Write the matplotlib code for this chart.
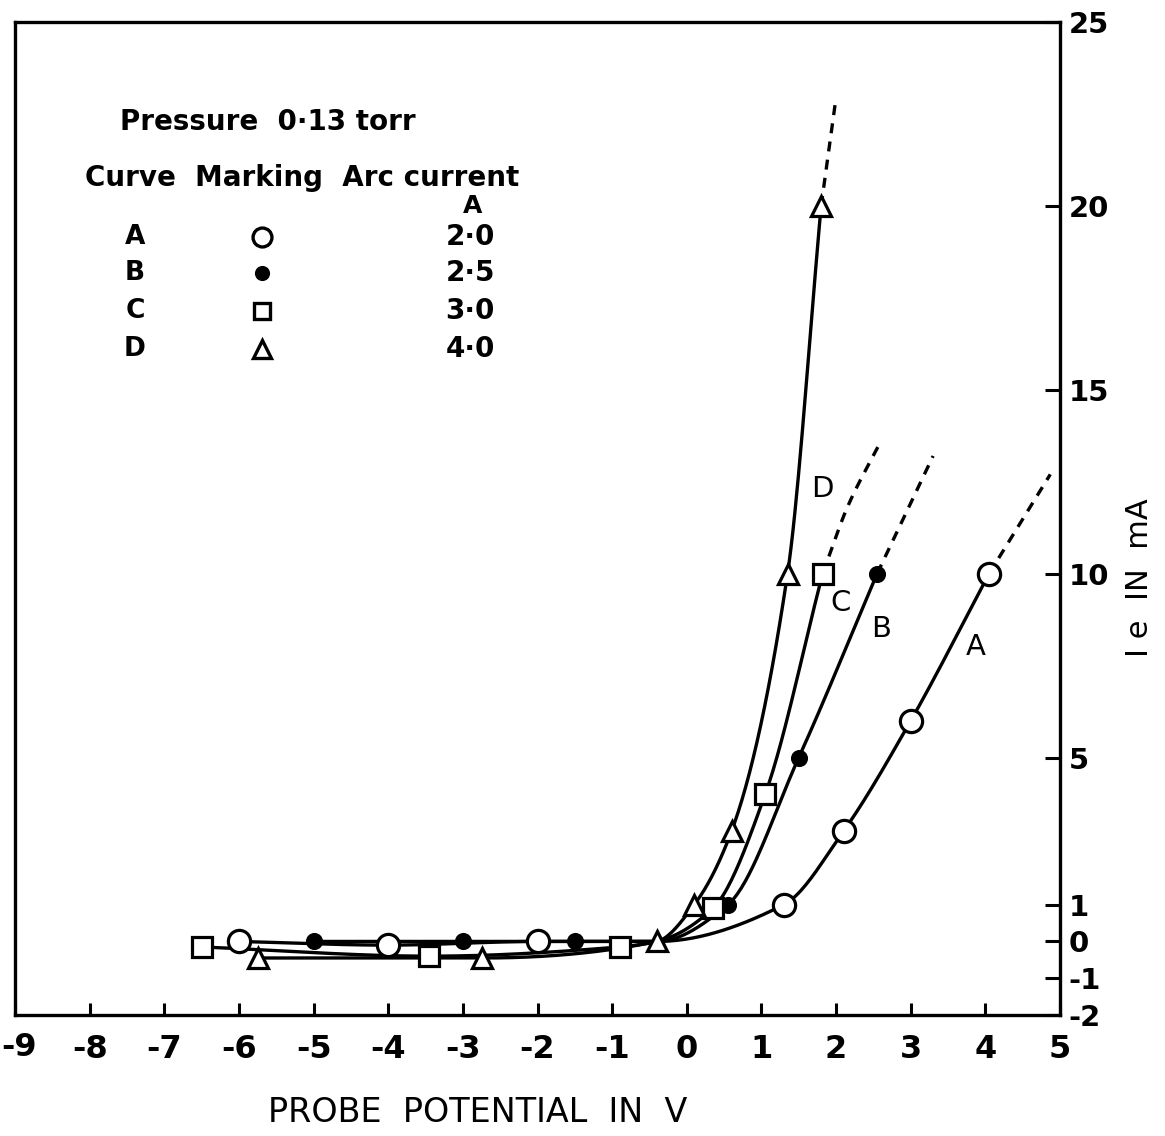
import matplotlib
matplotlib.use('Agg')
import matplotlib.pyplot as plt
import numpy as np

# probe characteristics, pressure 0.13 torr
junction = (-0.4, 0.0)   # point where all four curves meet

A_x = [-6.0, -4.0, -2.0, 1.3, 2.1, 3.0, 4.05]
A_y = [0.0, -0.1, 0.0, 1.0, 3.0, 6.0, 10.0]
B_x = [-5.0, -3.0, -1.5, 0.55, 1.5, 2.55]
B_y = [0.0, 0.0, 0.0, 1.0, 5.0, 10.0]
C_x = [-6.5, -3.45, -0.9, 0.35, 1.05, 1.82]
C_y = [-0.15, -0.4, -0.15, 0.9, 4.0, 10.0]
D_x = [-5.75, -2.75, -0.4, 0.1, 0.6, 1.35, 1.8]
D_y = [-0.45, -0.45, 0.0, 1.0, 3.0, 10.0, 20.0]

# dashed extrapolations
A_ext = ([4.05, 4.87], [10.0, 12.7])
B_ext = ([2.55, 3.3], [10.0, 13.2])
C_ext = ([1.82, 2.15, 2.6], [10.0, 11.8, 13.6])
D_ext = ([1.8, 1.99], [20.0, 22.8])

xticks = [-9, -8, -7, -6, -5, -4, -3, -2, -1, 0, 1, 2, 3, 4, 5]
yticks = [-2, -1, 0, 1, 5, 10, 15, 20, 25]

legend_rows = ['A', 'B', 'C', 'D']
arc_current = ['2·0', '2·5', '3·0', '4·0']

plt.rcParams['font.family'] = 'DejaVu Sans'
plt.rcParams['font.weight'] = 'bold'


def smooth(x, y, n=300):
    # monotone cubic (pchip) through the given points, for drawing only
    x = np.asarray(x, float); y = np.asarray(y, float)
    h = np.diff(x); d = np.diff(y) / h
    m = np.zeros_like(x)
    m[0] = d[0]; m[-1] = d[-1]
    for k in range(1, len(x) - 1):
        if d[k-1] * d[k] <= 0:
            m[k] = 0
        else:
            w1 = 2*h[k] + h[k-1]; w2 = h[k] + 2*h[k-1]
            m[k] = (w1 + w2) / (w1/d[k-1] + w2/d[k])
    xs = np.linspace(x[0], x[-1], n)
    i = np.clip(np.searchsorted(x, xs) - 1, 0, len(x) - 2)
    t = (xs - x[i]) / h[i]
    h00 = 2*t**3 - 3*t**2 + 1; h10 = t**3 - 2*t**2 + t
    h01 = -2*t**3 + 3*t**2; h11 = t**3 - t**2
    ys = h00*y[i] + h10*h[i]*m[i] + h01*y[i+1] + h11*h[i]*m[i+1]
    return xs, ys


def with_junction(x, y):
    pts = sorted(set(zip(x, y)) | {junction})
    return [p[0] for p in pts], [p[1] for p in pts]


fig = plt.figure(figsize=(11.65, 11.36), dpi=100)
ax = fig.add_axes([15/1165, 1 - 1015/1136, 1045/1165, 993/1136])

lw = 2.4
curves = [
    (A_x, A_y, A_ext, dict(marker='o', ms=16, mfc='white')),
    (B_x, B_y, B_ext, dict(marker='o', ms=10, mfc='black')),
    (C_x, C_y, C_ext, dict(marker='s', ms=14, mfc='white')),
    (D_x, D_y, D_ext, dict(marker='^', ms=15, mfc='white')),
]
for x, y, ext, mk in curves:
    lx, ly = with_junction(x, y)
    sx, sy = smooth(lx, ly)
    ax.plot(sx, sy, color='black', lw=lw, zorder=2)
    ex, ey = smooth(*ext) if len(ext[0]) > 2 else ext
    ax.plot(ex, ey, color='black', lw=lw, ls=(0, (3, 2.5)), zorder=2)
    ax.plot(x, y, ls='none', mec='black', mew=2.3, zorder=3, **mk)

# curve letters
for lab, px, py in [('D', 1.82, 12.3), ('C', 2.06, 9.2), ('B', 2.6, 8.5), ('A', 3.87, 8.0)]:
    ax.text(px, py, lab, fontsize=21, fontweight='normal', ha='center', va='center')

ax.set_xlim(-9, 5)
ax.set_ylim(-2, 25)
ax.set_xticks(xticks)
# the leftmost label sits at the figure edge; it is drawn separately below
ax.set_xticklabels([''] + [str(v) for v in xticks[1:]], fontsize=23)
ax.yaxis.tick_right()
ax.set_yticks(yticks)
ax.set_yticklabels([str(v) for v in yticks], fontsize=21)
ax.tick_params(axis='x', direction='in', length=9, width=2.2, pad=14)
ax.tick_params(axis='y', direction='in', length=11, width=2.2, pad=6)
for s in ax.spines.values():
    s.set_linewidth(2.4)

fig.text(1/1165, 1 - 1048/1136, str(xticks[0]), fontsize=23, ha='left', va='center')

fig.text(478/1165, 1 - 1113/1136, 'PROBE  POTENTIAL  IN  V', fontsize=24,
         fontweight='normal', ha='center', va='center')
fig.text(1140/1165, 1 - 578/1136, 'I e  IN  mA', fontsize=22, rotation=90,
         fontweight='normal', ha='center', va='center')


def axpos(px, py):
    return (px - 15) / 1045, (1015 - py) / 993


ax.text(*axpos(120, 122), 'Pressure  0·13 torr', transform=ax.transAxes,
        fontsize=20, ha='left', va='center')
ax.text(*axpos(85, 178), 'Curve  Marking  Arc current', transform=ax.transAxes,
        fontsize=20, ha='left', va='center')
ax.text(*axpos(473, 206), 'A', transform=ax.transAxes, fontsize=18,
        ha='center', va='center')
row_y = [237, 273, 311, 349]
for (x, y, ext, mk), lab, val, py in zip(curves, legend_rows, arc_current, row_y):
    ax.text(*axpos(135, py), lab, transform=ax.transAxes, fontsize=19,
            ha='center', va='center')
    m = dict(mk)
    m['ms'] = m['ms'] * 0.85
    ax.plot(*axpos(262, py), transform=ax.transAxes, ls='none', mec='black',
            mew=2.4, clip_on=False, **m)
    ax.text(*axpos(470, py), val, transform=ax.transAxes, fontsize=20,
            ha='center', va='center')

fig.savefig('out.png', dpi=100)
